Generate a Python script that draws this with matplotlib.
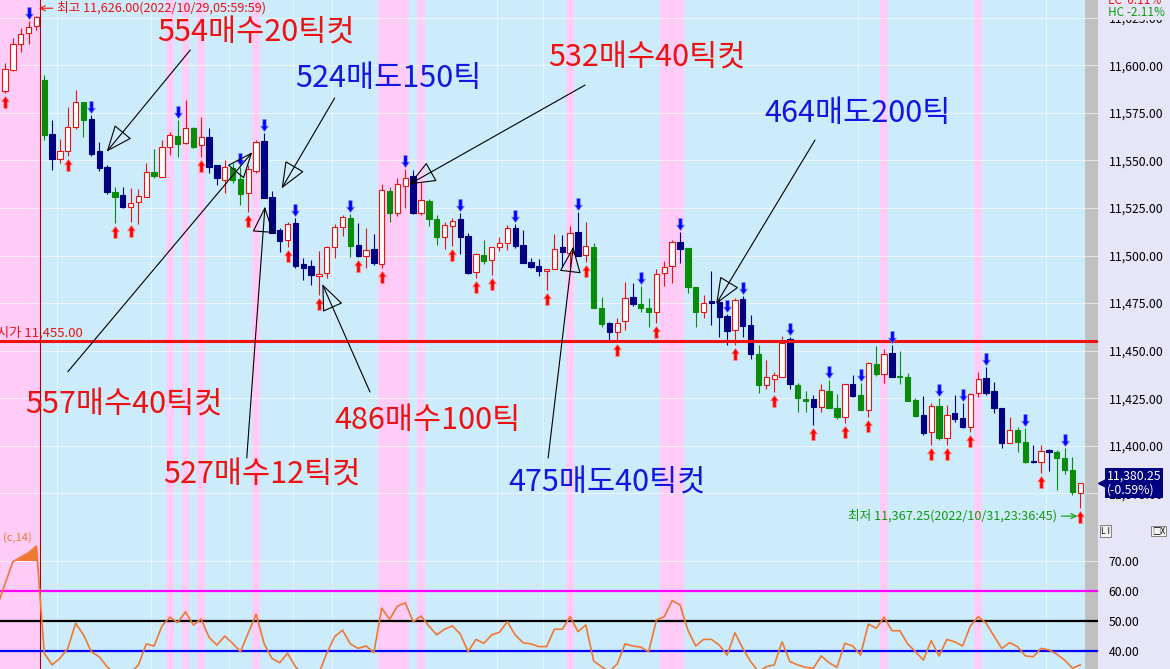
#!/usr/bin/env python
# -*- coding: utf-8 -*-

import numpy as np
import matplotlib
matplotlib.use('Agg')
import matplotlib.pyplot as plt
from matplotlib import transforms
from matplotlib.path import Path

plt.rcParams['font.family'] = ['Noto Sans CJK KR', 'DejaVu Sans']

# ---- candle data ----
opens = [
    11586.5, 11597.5, 11611.25, 11616.75, 11620.75, 11592.25, 11563.75, 11550.5, 11555.0, 11567.75,
    11580.5, 11571.75, 11555.0, 11546.75, 11533.5, 11531.75, 11525.75, 11528.25, 11531.0, 11543.75,
    11541.5, 11557.25, 11562.75, 11559.0, 11567.0, 11558.0, 11562.5, 11547.5, 11539.75, 11546.0,
    11540.25, 11533.0, 11544.5, 11560.25, 11531.0, 11513.5, 11508.25, 11517.0, 11495.5, 11494.5,
    11489.25, 11490.75, 11504.25, 11515.25, 11520.0, 11505.5, 11500.0, 11503.5, 11495.5, 11534.0,
    11522.5, 11536.75, 11541.75, 11522.5, 11528.75, 11519.0, 11509.5, 11515.5, 11519.0, 11510.25,
    11491.5, 11500.25, 11497.75, 11504.25, 11506.5, 11514.25, 11505.5, 11496.75, 11494.5, 11492.0,
    11492.75, 11504.75, 11501.5, 11512.5, 11500.25, 11504.75, 11472.25, 11464.5, 11460.0, 11465.75,
    11478.0, 11474.5, 11472.5, 11470.5, 11490.75, 11494.5, 11507.25, 11503.75, 11483.5, 11470.5,
    11476.0, 11475.75, 11468.25, 11461.0, 11477.0, 11463.5, 11448.25, 11432.0, 11435.0, 11436.25,
    11456.0, 11432.0, 11424.5, 11424.5, 11420.25, 11428.75, 11420.0, 11415.0, 11432.5, 11426.75,
    11418.75, 11443.0, 11438.0, 11449.0, 11436.75, 11436.25, 11424.0, 11416.25, 11407.5, 11421.0,
    11404.0, 11417.0, 11414.5, 11409.75, 11427.5, 11435.75, 11428.75, 11420.0, 11401.25, 11408.25,
    11402.25, 11392.25, 11391.5, 11397.75, 11397.0, 11393.5, 11387.25, 11375.0]
highs = [
    11601.25, 11614.25, 11619.75, 11623.25, 11626.0, 11595.0, 11571.25, 11561.5, 11578.0, 11587.0,
    11580.75, 11574.0, 11559.75, 11547.5, 11536.0, 11536.25, 11535.5, 11534.75, 11548.5, 11556.0,
    11560.75, 11565.0, 11571.25, 11581.75, 11567.75, 11572.75, 11567.0, 11547.75, 11550.25, 11548.5,
    11546.75, 11547.5, 11560.75, 11564.25, 11534.0, 11514.5, 11517.5, 11519.75, 11498.5, 11497.75,
    11502.5, 11505.0, 11516.5, 11521.25, 11521.75, 11517.0, 11514.25, 11511.25, 11537.5, 11536.25,
    11541.0, 11545.25, 11545.0, 11538.75, 11529.5, 11521.25, 11517.75, 11519.5, 11522.5, 11511.75,
    11501.5, 11508.25, 11504.75, 11509.5, 11516.0, 11516.5, 11513.5, 11498.5, 11498.0, 11493.0,
    11511.25, 11510.75, 11515.5, 11523.0, 11517.5, 11506.5, 11478.0, 11465.25, 11467.0, 11486.25,
    11485.5, 11484.0, 11477.5, 11492.75, 11497.25, 11508.25, 11512.5, 11503.75, 11483.5, 11479.25,
    11492.0, 11477.0, 11469.5, 11477.5, 11478.5, 11468.75, 11453.0, 11445.0, 11439.0, 11457.75,
    11457.25, 11433.0, 11428.75, 11426.75, 11432.5, 11434.5, 11427.25, 11432.5, 11437.25, 11433.0,
    11444.25, 11452.5, 11450.75, 11453.0, 11450.0, 11438.5, 11425.0, 11426.25, 11422.25, 11425.0,
    11421.5, 11426.75, 11422.25, 11428.0, 11439.0, 11441.25, 11433.75, 11420.0, 11415.25, 11409.75,
    11409.5, 11400.5, 11400.5, 11398.25, 11397.75, 11398.75, 11394.25, 11380.5]
lows = [
    11585.5, 11597.0, 11607.0, 11611.25, 11618.5, 11560.75, 11545.0, 11548.75, 11552.25, 11566.5,
    11562.5, 11552.25, 11544.5, 11532.5, 11517.25, 11524.75, 11517.75, 11516.5, 11531.0, 11540.5,
    11541.5, 11553.0, 11552.0, 11558.5, 11556.5, 11552.0, 11543.25, 11537.0, 11533.0, 11538.0,
    11526.5, 11523.0, 11543.5, 11530.5, 11512.0, 11502.0, 11504.75, 11493.5, 11487.25, 11484.5,
    11479.25, 11488.0, 11498.5, 11510.25, 11499.0, 11499.0, 11493.25, 11495.0, 11493.5, 11517.75,
    11520.75, 11524.75, 11521.75, 11521.25, 11515.5, 11505.5, 11503.25, 11505.0, 11500.75, 11490.25,
    11488.0, 11495.5, 11489.75, 11502.5, 11503.0, 11504.0, 11496.0, 11493.25, 11489.25, 11482.0,
    11492.75, 11493.75, 11492.5, 11499.75, 11496.5, 11472.25, 11462.5, 11455.25, 11455.25, 11461.0,
    11473.5, 11470.5, 11462.5, 11464.5, 11484.0, 11485.5, 11496.0, 11480.25, 11462.5, 11467.0,
    11463.5, 11457.25, 11453.0, 11453.0, 11457.25, 11445.5, 11428.0, 11430.0, 11428.5, 11436.25,
    11430.0, 11418.0, 11418.0, 11411.0, 11418.0, 11419.75, 11414.0, 11411.75, 11425.5, 11418.75,
    11415.0, 11436.75, 11433.25, 11436.0, 11432.5, 11423.75, 11415.25, 11405.75, 11400.5, 11403.0,
    11400.5, 11412.75, 11409.25, 11407.5, 11425.75, 11426.75, 11417.5, 11398.75, 11401.25, 11396.5,
    11390.75, 11390.75, 11385.5, 11386.5, 11376.75, 11385.25, 11374.0, 11367.25]
closes = [
    11598.0, 11611.0, 11616.5, 11620.0, 11625.25, 11563.5, 11551.0, 11555.0, 11567.75, 11580.5,
    11571.5, 11553.5, 11546.0, 11533.5, 11531.0, 11525.5, 11527.75, 11531.25, 11544.0, 11542.0,
    11557.25, 11563.5, 11558.5, 11567.25, 11557.25, 11562.25, 11546.75, 11540.5, 11546.75, 11539.75,
    11532.5, 11545.25, 11559.75, 11530.5, 11512.0, 11507.75, 11516.5, 11494.5, 11493.25, 11489.75,
    11490.25, 11504.25, 11514.75, 11520.5, 11505.0, 11499.75, 11503.0, 11496.25, 11534.5, 11522.5,
    11537.5, 11541.0, 11522.5, 11529.25, 11519.0, 11509.5, 11516.0, 11518.25, 11510.0, 11491.0,
    11500.75, 11497.25, 11504.25, 11506.5, 11514.25, 11505.0, 11496.25, 11494.0, 11492.0, 11492.75,
    11503.25, 11502.0, 11511.75, 11499.75, 11505.0, 11472.25, 11464.0, 11460.0, 11464.5, 11477.5,
    11474.5, 11472.25, 11470.5, 11490.25, 11493.75, 11507.25, 11503.5, 11483.5, 11470.5, 11475.25,
    11475.0, 11467.75, 11460.5, 11476.75, 11463.0, 11448.25, 11432.0, 11436.25, 11437.25, 11454.0,
    11432.5, 11425.0, 11423.75, 11420.5, 11429.25, 11420.0, 11415.25, 11432.5, 11426.25, 11418.75,
    11443.5, 11437.75, 11448.5, 11436.0, 11436.0, 11423.75, 11415.75, 11406.5, 11421.0, 11404.0,
    11416.25, 11414.0, 11410.0, 11427.0, 11435.0, 11428.0, 11419.75, 11401.25, 11408.25, 11402.25,
    11391.5, 11391.5, 11397.5, 11396.5, 11393.5, 11387.5, 11375.5, 11380.25]

# r = up (hollow red), n = down (navy), g = down (green)
kinds = ("rrrrrgnrrr" "gnnngnrrrg" "rrgrgrnnrg" "grrnnnrnnn" "rrrrgnrnrg"
         "rrnrggrrnn" "rgrrrnnnnr" "rnrnrggnrr" "nggrrrnggr" "nnnrnngrrr"
         "nggnrggrng" "rgrngggnrg" "rnnrrnnnrg" "gnrngggr")

# oscillator (c,14), one value per candle plus the one before the first
osc_lead = 54.6
osc = [
    62.2, 69.6, 71.1, 72.6, 74.8, 39.1, 35.2, 37.4, 40.7, 49.1,
    45.2, 39.6, 37.9, 34.6, 32.5, 31.0, 32.5, 35.2, 42.2, 41.5,
    48.2, 51.1, 49.3, 52.9, 48.5, 50.5, 44.4, 41.8, 44.8, 42.4,
    39.6, 45.9, 52.1, 42.4, 37.4, 35.9, 39.1, 34.6, 32.0, 31.0,
    32.5, 39.1, 44.6, 46.8, 42.2, 40.7, 41.5, 39.3, 54.1, 50.4,
    54.8, 55.9, 49.6, 51.5, 48.2, 45.2, 47.1, 48.2, 45.5, 39.6,
    43.7, 42.4, 45.2, 46.1, 49.6, 45.2, 42.6, 42.2, 41.3, 41.3,
    47.1, 47.1, 51.3, 46.3, 48.5, 36.5, 34.6, 33.0, 35.5, 42.2,
    41.5, 41.1, 39.6, 50.2, 51.3, 56.6, 55.2, 46.8, 41.5, 43.7,
    43.7, 41.8, 38.5, 45.9, 40.7, 36.3, 33.0, 34.6, 35.2, 42.9,
    36.3, 35.2, 34.4, 34.1, 38.2, 35.9, 34.4, 42.4, 41.5, 38.5,
    48.8, 47.4, 51.1, 46.6, 46.6, 42.2, 39.6, 36.8, 43.3, 38.2,
    43.7, 42.9, 41.5, 48.2, 51.3, 49.1, 44.8, 40.7, 42.6, 41.3,
    38.2, 37.9, 40.7, 40.2, 38.8, 36.8, 34.1, 35.2]

buy_idx = [0, 8, 14, 16, 25, 31, 36, 40, 45, 48, 57, 60, 62, 69, 74, 78, 83,
           93, 98, 103, 107, 110, 118, 120, 123, 132, 137]
sell_idx = [3, 11, 22, 30, 33, 37, 44, 51, 58, 65, 73, 81, 86, 92, 94, 100,
            105, 109, 113, 119, 122, 125, 130, 135]
pink_idx = [0, 1, 2, 3, 4, 21, 23, 25, 32, 48, 49, 50, 51, 53, 72, 84, 85, 86,
            112, 124]
vgrid_idx = [6.6, 18.6, 28.5, 36.7, 41.7, 62.7, 68.5, 108.7, 132.6]

session_break = 4.46
session_open = 11455.0
last_price = 11380.25
last_change = -0.59
day_high = (4, 11626.0, '2022/10/29,05:59:59')
day_low = (137, 11367.25, '2022/10/31,23:36:45')
price_ticks = [11375, 11400, 11425, 11450, 11475, 11500, 11525, 11550,
               11575, 11600, 11625]
osc_ticks = [40, 50, 60, 70]

# text, colour, text x/y, arrow tip x/y, arrow tail x/y  (candle index, price)
notes = [
    ('554매수20틱컷', 'red', 19.4, 11617.0, 12.96, 11554.6, 23.6, 11608.0),
    ('524매도150틱', 'blue', 36.95, 11593.3, 35.25, 11535.3, 42.0, 11582.8),
    ('532매수40틱컷', 'red', 69.2, 11603.8, 51.5, 11537.4, 73.9, 11589.6),
    ('464매도200틱', 'blue', 96.8, 11574.9, 90.6, 11474.5, 103.2, 11560.7),
    ('557매수40틱컷', 'red', 2.55, 11421.4, 31.5, 11554.3, 8.0, 11438.9),
    ('486매수100틱', 'red', 42.0, 11413.5, 40.43, 11485.0, 46.5, 11428.3),
    ('527매수12틱컷', 'red', 20.1, 11384.6, 33.12, 11525.7, 30.8, 11393.6),
    ('475매도40틱컷', 'blue', 64.1, 11380.4, 72.4, 11504.7, 69.2, 11393.6),
]

# ---- layout (pixels of the 1170x669 screen) ----
W, H = 1170, 669
STEP = 7.849          # pixels per candle
FIRST = 5.0           # centre of first candle
PLOT_R = 1098         # right edge of chart area
GRAY_L = 1085         # start of the grey strip
SPLIT = 529           # border between panels
PX_PER_PT = 1.9025    # price panel scale
Y_11600 = 65.3

BG = '#CCEBFB'
PINK = '#FFCCF7'
SIDE = '#E6E6F8'
RED = '#EE1111'
BLUE = '#1515E0'
NAVY = '#000080'
GREEN = '#0A8C0A'
ORANGE = '#F07832'
text_col = {'red': RED, 'blue': BLUE}

fig = plt.figure(figsize=(W / 100, H / 100), dpi=100, facecolor=SIDE)
ax = fig.add_axes([0, 1 - SPLIT / H, PLOT_R / W, SPLIT / H])
ax2 = fig.add_axes([0, 0, PLOT_R / W, (H - SPLIT) / H])

x = np.arange(len(opens))
o, h, l, c = map(np.array, (opens, highs, lows, closes))
x_lo = -FIRST / STEP
x_hi = x_lo + PLOT_R / STEP
gray_from = (GRAY_L - FIRST) / STEP

ax.set_ylim(11600 - (SPLIT - Y_11600) / PX_PER_PT, 11600 + Y_11600 / PX_PER_PT)
ax2.set_ylim(50 - (H - 620.5) / 3.0, 50 + (620.5 - SPLIT) / 3.0)

for a in (ax, ax2):
    a.set_facecolor(BG)
    a.set_xlim(x_lo, x_hi)
    for s in a.spines.values():
        s.set_visible(False)
    a.set_xticks([])
    a.yaxis.tick_right()
    a.tick_params(axis='y', length=0, pad=7.5, labelsize=8.8, labelcolor='black')
    for i in pink_idx:
        a.axvspan(x_lo if i == 0 else i - 0.5, i + 0.5, color=PINK, lw=0, zorder=0.5)
    a.axvspan(gray_from, x_hi, color='#C0C0C0', lw=0, zorder=1.2)
    for g in vgrid_idx:
        a.axvline(g, color='white', lw=0.8, alpha=0.5, zorder=1)
    a.axvline(session_break, color='#B00000', lw=0.8, zorder=2)

ax.set_yticks(price_ticks)
ax.set_yticklabels(['{:,.2f}'.format(t) for t in price_ticks])
ax2.set_yticks(osc_ticks)
ax2.set_yticklabels(['{:.2f}'.format(t) for t in osc_ticks])

for p in price_ticks:
    ax.axhline(p, color='white', lw=0.8, alpha=0.6, zorder=1.5)
ax2.axhline(70, color='white', lw=0.8, alpha=0.6, zorder=1.5)

# ---- candles ----
face = {'r': 'white', 'n': NAVY, 'g': GREEN}
edge = {'r': RED, 'n': NAVY, 'g': GREEN}
faces = [face[k] for k in kinds]
edges = [edge[k] for k in kinds]
ax.vlines(x, l, h, colors=edges, lw=0.8, zorder=3)
ax.bar(x, np.abs(c - o), bottom=np.minimum(o, c), width=0.68, color=faces,
       edgecolor=edges, linewidth=0.8, zorder=4)

ax.axhline(session_open, color=RED, lw=2.2, zorder=4.5)

# ---- buy / sell arrows ----
up_arrow = Path([(0, 1), (0.65, 0.1), (0.28, 0.1), (0.28, -1), (-0.28, -1),
                 (-0.28, 0.1), (-0.65, 0.1), (0, 1)], closed=True)
down_arrow = Path([(vx, -vy) for vx, vy in up_arrow.vertices], closed=True)
buy_tr = transforms.offset_copy(ax.transData, fig=fig, y=-9, units='dots')
sell_tr = transforms.offset_copy(ax.transData, fig=fig, y=8, units='dots')
ax.plot(x[buy_idx], l[buy_idx], ls='none', marker=up_arrow, ms=8.8,
        mfc='#FF0000', mec='#FF9090', mew=0.5, transform=buy_tr, zorder=5)
ax.plot(x[sell_idx], h[sell_idx], ls='none', marker=down_arrow, ms=8.8,
        mfc='#0000FF', mec='#9090FF', mew=0.5, transform=sell_tr, zorder=5)

# ---- comments with arrows ----
for txt, col, tx, ty, px, py, qx, qy in notes:
    ax.annotate('', xy=(px, py), xytext=(qx, qy),
                arrowprops=dict(arrowstyle='-|>,head_length=1.7,head_width=0.7',
                                mutation_scale=10, fc='none', ec='black', lw=0.8,
                                shrinkA=0, shrinkB=0), zorder=6)
    ax.text(tx, ty, txt, color=text_col[col], fontsize=22, ha='left',
            va='center', zorder=7)

# ---- small labels ----
hi_i, hi_p, hi_t = day_high
ax.annotate('최고 {:,.2f}({})'.format(hi_p, hi_t), xy=(hi_i + 0.33, hi_p + 4),
            xytext=(hi_i + 2.62, hi_p + 4), color=RED, fontsize=9.1,
            ha='left', va='center',
            arrowprops=dict(arrowstyle='->', color=RED, lw=0.8, shrinkA=1, shrinkB=0))
lo_i, lo_p, lo_t = day_low
ax.annotate('최저 {:,.2f}({})'.format(lo_p, lo_t), xy=(lo_i - 0.4, lo_p - 4.2),
            xytext=(lo_i - 29.6, lo_p - 4.2), color='#119911', fontsize=9.1,
            ha='left', va='center',
            arrowprops=dict(arrowstyle='->', color='#119911', lw=0.8, shrinkA=1, shrinkB=0))
ax.text(x_lo - 0.38, session_open + 4.2, '시가 {:,.2f}'.format(session_open),
        color=RED, fontsize=9.5, ha='left', va='center')

# current price box
tr = transforms.blended_transform_factory(ax.transAxes, ax.transData)
ax.text(1 + 8.5 / PLOT_R, last_price,
        '{:,.2f}\n({:+.2f}%)'.format(last_price, last_change),
        transform=tr, color='white', fontsize=8.8, ha='left', va='center',
        linespacing=1.05, clip_on=False, zorder=10,
        bbox=dict(boxstyle='square,pad=0.15', fc=NAVY, ec='none'))
ax.plot([1 + 4 / PLOT_R], [last_price], marker='<', ms=5.5, color=NAVY,
        transform=tr, clip_on=False, zorder=10)

fig.text(1108 / W, 1 - 1 / H, 'LC  0.11%', color=RED, fontsize=8.5, va='center')
fig.text(1108 / W, 1 - 12.5 / H, 'HC -2.11%', color='#119911', fontsize=8.5,
         va='center', bbox=dict(boxstyle='square,pad=0.1', fc=SIDE, ec='none'))
fig.text(1101 / W, 1 - 531 / H, 'L I', fontsize=6, va='center',
         bbox=dict(boxstyle='square,pad=0.15', fc='#F4F4F4', ec='#707070', lw=0.6))
fig.text(1152 / W, 1 - 531 / H, '□X', fontsize=6, va='center',
         bbox=dict(boxstyle='square,pad=0.1', fc='#F4F4F4', ec='#707070', lw=0.6))

# ---- oscillator panel ----
xo = np.arange(-1, len(osc))
vo = np.array([osc_lead] + osc)
ax2.axhline(60, color='#FF00FF', lw=1.6, zorder=3)
ax2.axhline(50, color='black', lw=1.6, zorder=3)
ax2.axhline(40, color='#0000FF', lw=1.6, zorder=3)
ax2.fill_between(xo, vo, 70, where=vo > 70, interpolate=True, color=ORANGE,
                 lw=0, zorder=3.5)
ax2.plot(xo, vo, color=ORANGE, lw=1.2, zorder=4)
ax2.text(x_lo + 0.4, 77.5, '(c,14)', color=ORANGE, fontsize=8, ha='left',
         va='center')

fig.savefig('out.png', dpi=100, facecolor=SIDE)
